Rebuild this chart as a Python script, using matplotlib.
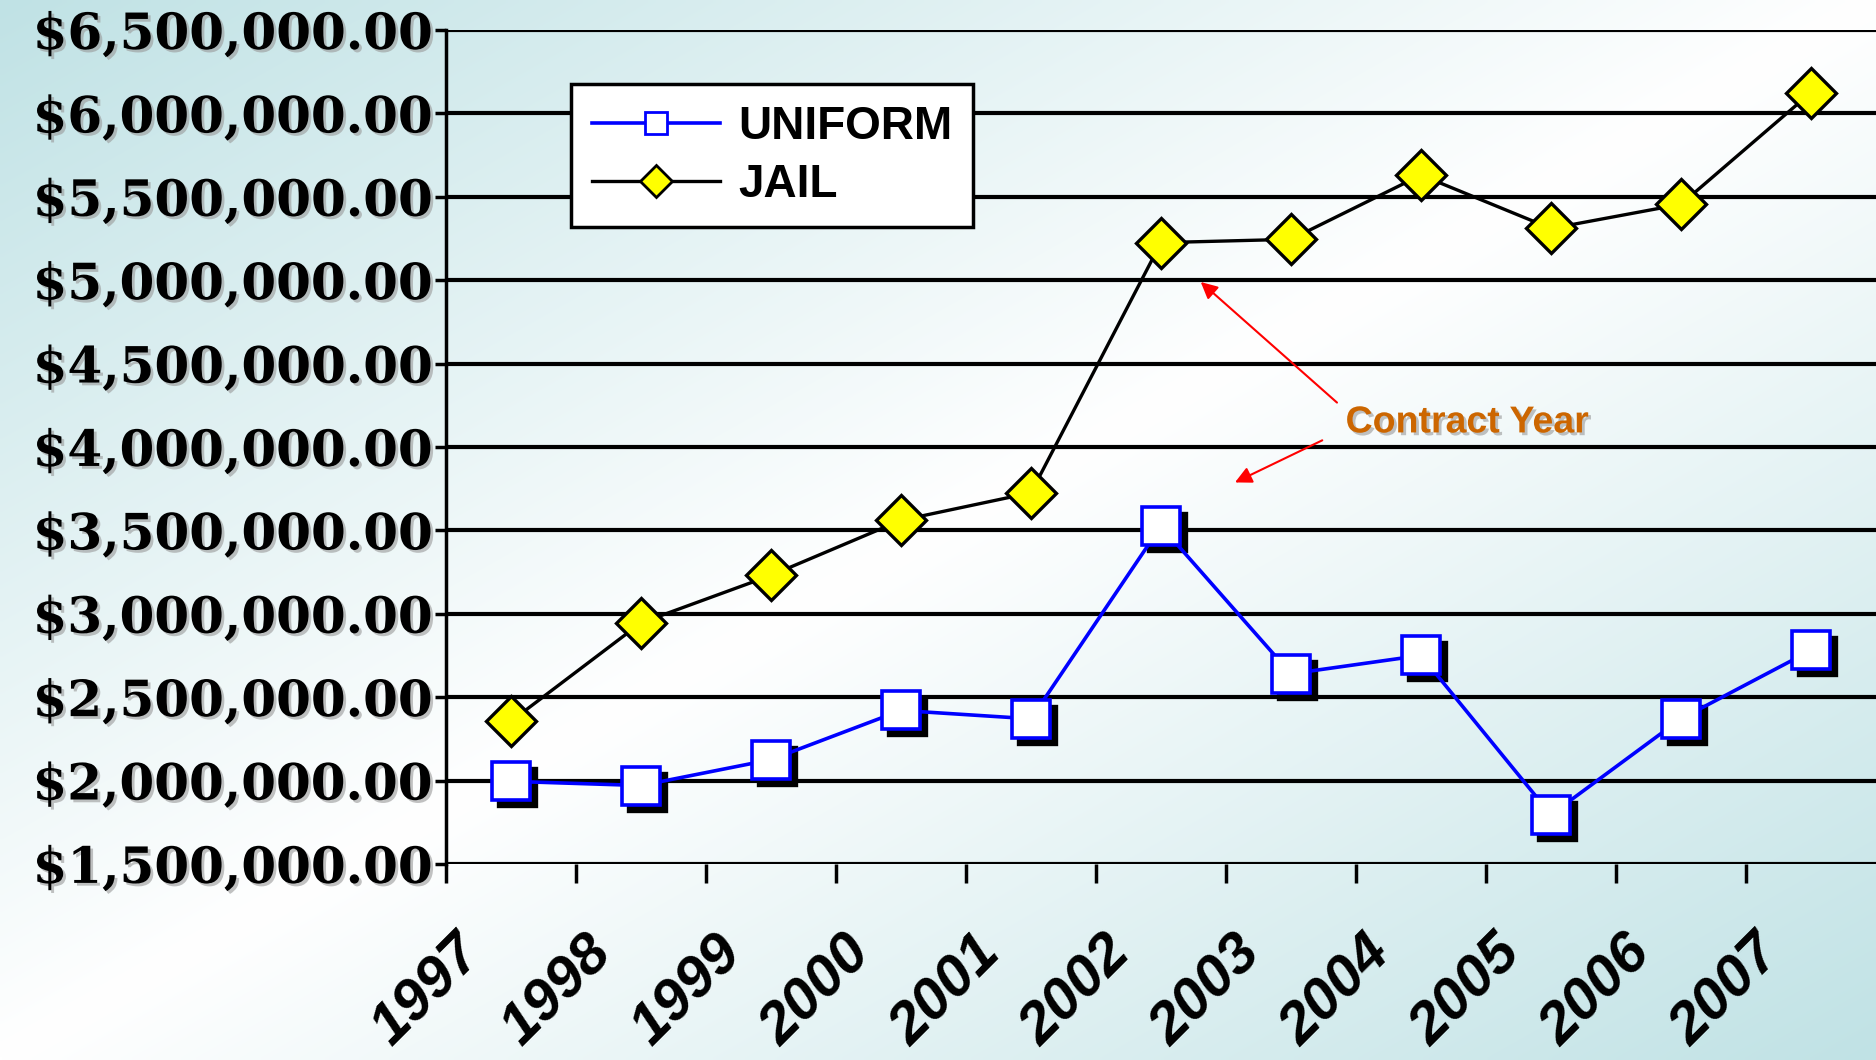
import numpy as np
import matplotlib
matplotlib.use("Agg")
import matplotlib.pyplot as plt
import matplotlib.transforms as mtransforms
import matplotlib.patheffects as pe

# data
years = ["1997", "1998", "1999", "2000", "2001", "2002",
         "2003", "2004", "2005", "2006", "2007"]
uniform = [1995000, 1970000, 2125000, 2420000, 2370000, 3525000,
           2640000, 2750000, 1795000, 2370000, 2780000]
jail = [2355000, 2945000, 3230000, 3560000, 3725000, 5225000,
        5245000, 5630000, 5310000, 5455000, 6125000]
y_ticks = np.arange(1500000, 6500001, 500000)

fig = plt.figure(figsize=(18.76, 10.6), dpi=100)

# background gradient: teal in top-left / bottom-right corners, white on the diagonal
bg = fig.add_axes([0, 0, 1, 1], zorder=-10)
h, w = 212, 375
xf = np.linspace(0, 1, w)[None, :]
yf = np.linspace(0, 1, h)[:, None]
t = np.abs(xf + yf - 1.0)
teal = np.array([192, 226, 229]) / 255.0
white = np.array([1.0, 1.0, 1.0])
img = white[None, None, :] * (1 - t[..., None]) + teal[None, None, :] * t[..., None]
bg.imshow(img, aspect="auto", extent=[0, 1, 0, 1], interpolation="bilinear")
bg.axis("off")

ax = fig.add_axes([0.2377, 0.185, 0.7623, 0.7867])
ax.patch.set_alpha(0)
x = np.arange(len(years))

# grid lines
for yv in y_ticks:
    ax.axhline(yv, color="black", lw=3, zorder=1)

# uniform with drop shadow on the markers
shadow = mtransforms.offset_copy(ax.transData, fig=fig, x=6, y=-6, units="dots")
ax.plot(x, uniform, ls="none", marker="s", ms=27, mfc="black", mec="black",
        mew=2.4, transform=shadow, zorder=3)
ax.plot(x, uniform, color="#0000FF", lw=2.6, marker="s", ms=27, mfc="white",
        mec="#0000FF", mew=2.6, label="UNIFORM", zorder=4)
ax.plot(x, jail, color="black", lw=2.4, marker="D", ms=25, mfc="#FFFF00",
        mec="black", mew=2.4, label="JAIL", zorder=5)

ax.set_xlim(-0.5, len(years) - 0.5)
ax.set_ylim(1500000, 6500000)

for s in ["top", "right", "bottom"]:
    ax.spines[s].set_visible(False)
ax.spines["left"].set_linewidth(2.5)

ax.set_yticks(y_ticks)
ax.set_yticklabels(["${:,.2f}".format(v) for v in y_ticks],
                   fontfamily="DejaVu Serif", fontweight="bold", fontsize=36)
ax.tick_params(axis="y", length=8, width=2.5, pad=1)

ax.set_xticks(np.arange(-0.5, len(years) - 0.5, 1.0))
ax.set_xticklabels([])
ax.tick_params(axis="x", which="major", length=14, width=2.5, direction="out")
ax.set_xticks(x, minor=True)
ax.set_xticklabels(years, minor=True, rotation=45, ha="right", va="center",
                   rotation_mode="anchor", fontfamily="Liberation Sans",
                   fontweight="bold", fontstyle="italic", fontsize=42)
ax.tick_params(axis="x", which="minor", length=0, pad=58)
shift = mtransforms.ScaledTranslation(-38 / 100, -1 / 100, fig.dpi_scale_trans)
for lab in ax.get_xticklabels(minor=True):
    lab.set_transform(lab.get_transform() + shift)

shadow_fx = [pe.SimplePatchShadow(offset=(2, -2), shadow_rgbFace="#999999", alpha=0.6),
             pe.Normal()]
for lab in ax.get_yticklabels():
    lab.set_path_effects(shadow_fx)

leg = ax.legend(loc="upper left", bbox_to_anchor=(0.0874, 0.935), borderaxespad=0,
                fancybox=False, framealpha=1, edgecolor="black", handlelength=2.8,
                handletextpad=0.4, borderpad=0.45, labelspacing=0.3,
                prop={"family": "Liberation Sans", "weight": "bold", "size": 33})
leg.get_frame().set_linewidth(2.5)
leg.set_zorder(6)
for hnd in leg.legend_handles:
    hnd.set_markersize(16)
    hnd.set_markeredgewidth(2)

# contract year annotation
ax.text(6.42, 4147000, "Contract Year", color="#CC6600", fontsize=27,
        fontfamily="Liberation Sans", fontweight="bold", va="center", ha="left",
        path_effects=shadow_fx, zorder=7)
arrow = dict(arrowstyle="-|>", color="red", lw=1.5, mutation_scale=25)
ax.annotate("", xy=(5.29, 5000000), xytext=(6.37, 4255000), arrowprops=arrow, zorder=7)
ax.annotate("", xy=(5.55, 3780000), xytext=(6.26, 4047000), arrowprops=arrow, zorder=7)

fig.savefig("out.png", dpi=100)
